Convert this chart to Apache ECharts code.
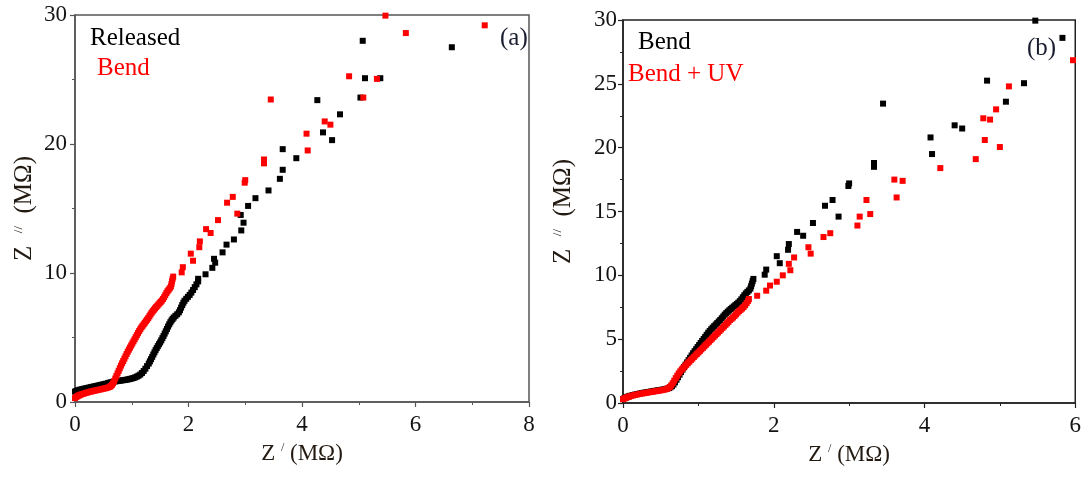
<!DOCTYPE html>
<html>
<head>
<meta charset="utf-8">
<script src="https://cdn.jsdelivr.net/npm/echarts@6/dist/echarts.min.js"></script>
<style>
  html, body { margin: 0; padding: 0; background: #fff; }
  #chart { width: 1084px; height: 479px; }
</style>
</head>
<body>
<div id="chart"></div>
<script>
// Nyquist data, Z' and Z'' in MΩ, pairs [Z', Z'']
const released = [
  [0.00,0.80],[0.02,0.85],[0.04,0.88],[0.06,0.91],[0.08,0.94],[0.10,0.96],[0.13,1.00],[0.16,1.03],
  [0.19,1.06],[0.22,1.09],[0.25,1.12],[0.28,1.15],[0.31,1.18],[0.34,1.21],[0.37,1.24],[0.40,1.27],
  [0.43,1.30],[0.46,1.33],[0.49,1.36],[0.52,1.39],[0.55,1.42],[0.58,1.46],[0.61,1.50],[0.64,1.53],
  [0.67,1.56],[0.70,1.59],[0.73,1.61],[0.76,1.63],[0.79,1.65],[0.82,1.67],[0.85,1.69],[0.88,1.71],
  [0.91,1.73],[0.94,1.76],[0.97,1.79],[1.00,1.82],[1.03,1.86],[1.06,1.91],[1.09,1.97],[1.12,2.04],
  [1.15,2.13],[1.18,2.25],[1.21,2.40],[1.24,2.58],[1.27,2.78],[1.30,2.98],[1.32,3.15],[1.34,3.32],
  [1.36,3.50],[1.38,3.68],[1.40,3.85],[1.42,4.02],[1.44,4.18],[1.46,4.33],[1.48,4.48],[1.50,4.62],
  [1.52,4.78],[1.54,4.95],[1.56,5.12],[1.58,5.30],[1.60,5.48],[1.62,5.66],[1.64,5.85],[1.66,6.02],
  [1.68,6.18],[1.70,6.32],[1.72,6.44],[1.74,6.55],[1.77,6.68],[1.80,6.80],[1.83,6.95],[1.85,7.12],
  [1.87,7.32],[1.89,7.52],[1.91,7.70],[1.93,7.85],[1.96,8.00],[1.99,8.15],[2.02,8.30],[2.05,8.48],
  [2.08,8.68],[2.11,8.90],[2.14,9.12],[2.17,9.35],
  [2.17,9.55],[2.30,9.9],[2.42,10.4],[2.45,11.1],[2.47,10.8],[2.60,11.6],[2.67,12.2],[2.80,12.6],
  [2.93,13.3],[2.97,13.9],[2.92,14.5],[3.05,15.2],[3.18,15.8],[3.41,16.4],[3.61,17.3],[3.66,18.0],
  [3.66,19.6],[3.90,18.9],[4.27,23.4],[4.37,20.9],[4.53,20.3],[4.67,22.3],[5.03,23.6],[5.07,28.0],
  [5.11,25.1],[5.38,25.1],[6.64,27.5]
];

const bend = [
  [0.00,0.30],[0.02,0.38],[0.04,0.44],[0.06,0.49],[0.08,0.53],[0.10,0.57],[0.13,0.62],[0.16,0.66],
  [0.19,0.70],[0.22,0.74],[0.25,0.78],[0.28,0.81],[0.31,0.84],[0.34,0.87],[0.37,0.90],[0.40,0.93],
  [0.43,0.96],[0.46,0.99],[0.49,1.02],[0.52,1.05],[0.55,1.08],[0.58,1.12],[0.61,1.17],[0.63,1.23],
  [0.65,1.32],[0.67,1.45],[0.69,1.62],[0.71,1.82],[0.73,2.02],[0.75,2.22],[0.77,2.42],[0.79,2.62],
  [0.81,2.82],[0.83,3.00],[0.85,3.18],[0.87,3.36],[0.89,3.54],[0.91,3.72],[0.93,3.90],[0.95,4.06],
  [0.97,4.22],[0.99,4.38],[1.01,4.54],[1.03,4.70],[1.05,4.86],[1.07,5.02],[1.09,5.18],[1.11,5.34],
  [1.13,5.50],[1.15,5.64],[1.17,5.78],[1.19,5.90],[1.21,6.02],[1.23,6.14],[1.25,6.26],[1.27,6.38],
  [1.29,6.50],[1.31,6.64],[1.33,6.78],[1.35,6.92],[1.37,7.04],[1.39,7.15],[1.41,7.26],[1.43,7.36],
  [1.45,7.46],[1.47,7.56],[1.49,7.66],[1.51,7.76],[1.53,7.86],[1.55,7.98],[1.57,8.12],[1.59,8.28],
  [1.61,8.44],[1.63,8.58],[1.65,8.70],[1.67,8.82],[1.69,8.96],[1.70,9.15],[1.71,9.35],[1.72,9.55],
  [1.73,9.72],
  [1.88,10.05],[1.90,10.45],[2.04,11.5],[2.08,10.95],[2.19,12.0],[2.20,12.45],[2.31,13.4],[2.39,13.1],
  [2.52,14.1],[2.68,15.45],[2.78,15.9],[2.86,14.6],[2.99,17.0],[3.00,17.2],[3.33,18.5],[3.33,18.8],
  [3.45,23.45],[4.08,20.8],[4.10,19.5],[4.40,21.75],[4.50,21.5],[4.83,25.25],[5.08,23.6],[5.32,25.05],
  [5.47,29.95],[5.83,28.6],[7.22,29.2]
];

const bendUV = [
  [0.00,0.30],[0.02,0.36],[0.04,0.41],[0.06,0.46],[0.08,0.50],[0.10,0.54],[0.13,0.59],[0.16,0.63],
  [0.19,0.67],[0.22,0.71],[0.25,0.74],[0.28,0.77],[0.31,0.80],[0.34,0.83],[0.37,0.86],[0.40,0.89],
  [0.43,0.92],[0.46,0.95],[0.49,0.98],[0.52,1.01],[0.55,1.05],[0.58,1.10],[0.60,1.16],[0.62,1.25],
  [0.64,1.38],[0.66,1.55],[0.68,1.75],[0.70,1.95],[0.72,2.14],[0.74,2.32],[0.76,2.48],[0.78,2.62],
  [0.80,2.75],[0.82,2.88],[0.84,3.00],[0.86,3.12],[0.88,3.24],[0.90,3.36],[0.92,3.48],[0.94,3.60],
  [0.96,3.72],[0.98,3.84],[1.00,3.96],[1.02,4.08],[1.04,4.20],[1.06,4.32],[1.08,4.44],[1.10,4.56],
  [1.12,4.68],[1.14,4.80],[1.16,4.92],[1.18,5.04],[1.20,5.16],[1.22,5.28],[1.24,5.40],[1.26,5.52],
  [1.28,5.64],[1.30,5.76],[1.32,5.88],[1.34,6.00],[1.36,6.12],[1.38,6.24],[1.40,6.36],[1.42,6.50],
  [1.44,6.60],[1.46,6.70],[1.48,6.82],[1.50,6.95],[1.52,7.08],[1.54,7.20],[1.56,7.30],[1.58,7.40],
  [1.60,7.52],[1.62,7.66],[1.64,7.82],[1.66,8.00],[1.67,8.15],
  [1.78,8.4],[1.90,8.8],[1.95,9.2],[2.04,9.5],[2.12,10.0],[2.20,10.9],[2.22,10.4],[2.27,11.4],
  [2.46,12.2],[2.49,11.7],[2.66,13.0],[2.75,13.3],[3.11,13.9],[3.14,14.6],[3.23,15.9],[3.28,14.8],
  [3.60,17.5],[3.63,16.1],[3.71,17.4],[4.21,18.4],[4.68,19.1],[4.78,22.3],[4.80,20.6],[4.87,22.2],
  [4.95,23.0],[5.00,20.05],[5.12,24.8],[5.97,26.85]
];

// axis ranges and tick spacing for the two panels
const panelA = { xMax: 8, xStep: 2, yMax: 30, yStep: 10 };
const panelB = { xMax: 6, xStep: 2, yMax: 30, yStep: 5 };

const SERIF = "Liberation Serif";
const RED = '#ff0000';
const BLACK = '#000000';

const nameRich = {
  m: { fontFamily: SERIF, fontSize: 23, color: '#231a12' },
  s: { fontFamily: SERIF, fontSize: 12, color: '#231a12', verticalAlign: 'top' }
};
const yNameRich = {
  m: { fontFamily: SERIF, fontSize: 25, color: '#231a12' },
  s: { fontFamily: SERIF, fontSize: 13, color: '#231a12', verticalAlign: 'top' }
};

function xAxisFor(gridIndex, cfg, lineColor) {
  return {
    gridIndex, type: 'value', min: 0, max: cfg.xMax, interval: cfg.xStep,
    name: '{m|Z }{s|/}{m| (MΩ)}',
    nameLocation: 'middle', nameGap: 40,
    nameTextStyle: { rich: nameRich },
    axisLine: { lineStyle: { color: lineColor, width: 1.5 } },
    axisTick: { length: 5, lineStyle: { color: lineColor, width: 1.2 } },
    minorTick: { show: true, splitNumber: 2, length: 3, lineStyle: { color: lineColor, width: 1 } },
    splitLine: { show: false },
    axisLabel: { fontFamily: SERIF, fontSize: 23, color: '#141414', margin: 11 }
  };
}

function yAxisFor(gridIndex, cfg, lineColor, gap, margin) {
  return {
    gridIndex, type: 'value', min: 0, max: cfg.yMax, interval: cfg.yStep,
    name: '{m|Z  }{s|//}{m|  (MΩ)}',
    nameLocation: 'middle', nameGap: gap, nameRotate: 90,
    nameTextStyle: { rich: yNameRich },
    axisLine: { lineStyle: { color: lineColor, width: 1.5 } },
    axisTick: { length: 5, lineStyle: { color: lineColor, width: 1.2 } },
    minorTick: { show: true, splitNumber: 2, length: 3, lineStyle: { color: lineColor, width: 1 } },
    splitLine: { show: false },
    axisLabel: { fontFamily: SERIF, fontSize: 23, color: '#141414', margin: margin }
  };
}

function scatter(name, data, color, xi, yi) {
  return {
    name, type: 'scatter', data, xAxisIndex: xi, yAxisIndex: yi,
    symbol: 'rect', symbolSize: 6,
    itemStyle: { color, opacity: 1 },
    clip: true, animation: false
  };
}

// in-plot series labels and panel letters
function tag(text, left, top, color) {
  return {
    text, left, top, padding: 0,
    textStyle: { fontFamily: SERIF, fontSize: 25, fontWeight: 'normal', color }
  };
}

const chart = echarts.init(document.getElementById('chart'), null, { renderer: 'canvas' });
chart.setOption({
  backgroundColor: '#ffffff',
  animation: false,
  title: [
    tag('Released', 90, 26, BLACK),
    tag('Bend', 97, 56, RED),
    tag('(a)', 500, 26, '#1a1d2e'),
    tag('Bend', 638, 30, BLACK),
    tag('Bend + UV', 628, 62, RED),
    tag('(b)', 1027, 36, '#1a1d2e')
  ],
  grid: [
    { left: 75, top: 15, width: 454, height: 387, show: true, borderColor: '#555', borderWidth: 1.5 },
    { left: 623, top: 20, width: 453, height: 383, show: true, borderColor: '#222', borderWidth: 1.5 }
  ],
  xAxis: [xAxisFor(0, panelA, '#555'), xAxisFor(1, panelB, '#222')],
  yAxis: [yAxisFor(0, panelA, '#555', 38, 8), yAxisFor(1, panelB, '#222', 47, 6)],
  series: [
    scatter('Released', released, BLACK, 0, 0),
    scatter('Bend', bend, RED, 0, 0),
    scatter('Bend', bend, BLACK, 1, 1),
    scatter('Bend + UV', bendUV, RED, 1, 1)
  ]
});
</script>
</body>
</html>
